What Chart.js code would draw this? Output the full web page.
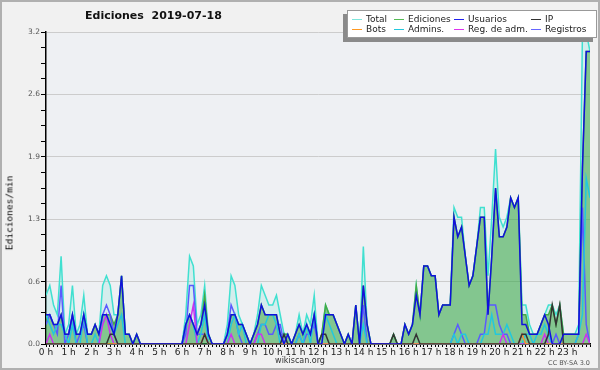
<!DOCTYPE html>
<html>
<head>
 <title>Ediciones 2019-07-18</title>
 <script src="https://cdn.jsdelivr.net/npm/chart.js"></script>
 <style>
  body { margin: 0; background: #fff; }
  #wrap { position: relative; width: 600px; height: 370px; background: #f1f1f1; font-family: "DejaVu Sans", sans-serif; }
  #frame { position: absolute; left: 0; top: 0; width: 600px; height: 370px; box-sizing: border-box; border: 2px solid #b0b0b0; pointer-events: none; }
  #chart { position: absolute; left: 0; top: 0; }
  .txt { position: absolute; white-space: pre; color: #111; }
  #title { left: 85px; top: 9px; font-size: 11px; font-weight: bold; }
  #ytitle { left: 9px; top: 213px; font-family: "DejaVu Sans Mono", monospace; font-size: 9.5px; color: #000; transform: translate(-50%, -50%) rotate(-90deg); }
  #site { left: 300px; top: 356px; font-size: 8px; color: #333; transform: translateX(-50%); }
  #lic { right: 10px; top: 359px; font-size: 6.5px; color: #555; }
  #legend { position: absolute; left: 347px; top: 10px; width: 250px; height: 28px; box-sizing: border-box; background: #fff; border: 1px solid #999; box-shadow: -4px 4px 0 #8a8a8a; }
  .item { position: absolute; font-size: 9px; color: #222; white-space: pre; line-height: 10px; }
  .item i { position: absolute; left: -14px; top: 5px; width: 10px; height: 0; border-top: 1.5px solid; }
 </style>
</head>
<body>
 <div id="wrap">
  <canvas id="chart" width="600" height="370"></canvas>
  <div class="txt" id="title">Ediciones  2019-07-18</div>
  <div class="txt" id="ytitle">Ediciones/min</div>
  <div class="txt" id="site">wikiscan.org</div>
  <div class="txt" id="lic">CC BY-SA 3.0</div>
  <div id="legend"></div>
  <div id="frame"></div>
 </div>
 <script>
  // 10-minute slots, 0 = 00:00 ... 144 = 24:00
  const slots = Array.from({ length: 145 }, (_, i) => i);
  const yTicks = [0, 0.16, 0.32, 0.48, 0.64, 0.8, 0.96, 1.12, 1.28, 1.44, 1.6, 1.76, 1.92, 2.08, 2.24, 2.4, 2.56, 2.72, 2.88, 3.04, 3.2];

  // edits per minute, one row per hour (6 slots), last value = 24:00
  const total = [
   .5,.6,.4,.3,.9,.1,  .2,.6,.1,.2,.5,.1,  .1,.2,.1,.6,.7,.6,  .3,.3,.7,.1,.1,0,
   .1,0,0,0,0,0,  0,0,0,0,0,0,  0,.3,.9,.8,.2,.3,  .6,.1,0,0,0,0,
   .2,.7,.6,.3,.2,.1,  0,.1,.3,.6,.5,.4,  .4,.5,.3,.1,.1,0,  .1,.3,.1,.3,.2,.5,
   0,.1,.4,.3,.3,.2,  .1,0,.1,0,.4,0,  1.0,.2,0,0,0,0,  0,0,.1,0,0,.2,
   .1,.2,.6,.3,.8,.8,  .7,.7,.3,.4,.4,.4,  1.4,1.3,1.3,.9,.6,.7,  1.0,1.4,1.4,.7,1.3,2.0,
   1.3,1.2,1.3,1.5,1.4,1.5,  .4,.4,.2,.1,.1,.2,  .3,.4,.4,.3,.4,.1,  .1,.1,.1,.2,3.2,3.2,
   3.0];
  const ediciones = [
   .3,.3,.2,.2,.3,.1,  .1,.3,.1,.1,.3,.1,  .1,.2,.1,.3,.3,.3,  .2,.3,.7,.1,.1,0,
   .1,0,0,0,0,0,  0,0,0,0,0,0,  0,.2,.3,.2,.1,.2,  .5,.1,0,0,0,0,
   .1,.3,.3,.2,.2,.1,  0,.1,.2,.4,.3,.3,  .3,.3,.1,.1,.1,0,  .1,.2,.1,.2,.1,.3,
   0,.1,.4,.3,.3,.2,  .1,0,.1,0,.4,0,  .6,.2,0,0,0,0,  0,0,.1,0,0,.2,
   .1,.2,.6,.3,.8,.8,  .7,.7,.3,.4,.4,.4,  1.3,1.1,1.2,.9,.6,.7,  1.0,1.3,1.3,.3,.9,1.6,
   1.1,1.1,1.2,1.5,1.4,1.5,  .3,.3,.1,.1,.1,.2,  .3,.3,.4,.2,.4,.1,  .1,.1,.1,.1,1.8,3.0,
   3.0];
  const usuarios = [
   .3,.3,.2,.2,.3,.1,  .1,.3,.1,.1,.3,.1,  .1,.2,.1,.3,.3,.2,  .1,.3,.7,.1,.1,0,
   .1,0,0,0,0,0,  0,0,0,0,0,0,  0,.2,.3,.2,.1,.2,  .4,.1,0,0,0,0,
   .1,.3,.3,.2,.2,.1,  0,.1,.2,.4,.3,.3,  .3,.3,.1,0,.1,0,  .1,.2,.1,.2,.1,.3,
   0,0,.3,.3,.3,.2,  .1,0,.1,0,.4,0,  .6,.2,0,0,0,0,  0,0,0,0,0,.2,
   .1,.2,.5,.3,.8,.8,  .7,.7,.3,.4,.4,.4,  1.3,1.1,1.2,.9,.6,.7,  1.0,1.3,1.3,.3,.9,1.6,
   1.1,1.1,1.2,1.5,1.4,1.5,  .2,.2,.1,.1,.1,.2,  .3,.2,0,0,0,.1,  .1,.1,.1,.1,1.8,3.0,
   3.0];
  const ip = [
   0,0,0,0,0,0,  0,0,0,0,0,0,  0,0,0,0,0,.1,  .1,0,0,0,0,0,
   0,0,0,0,0,0,  0,0,0,0,0,0,  0,0,0,0,0,0,  .1,0,0,0,0,0,
   0,0,0,0,0,0,  0,0,0,0,0,0,  0,0,0,.1,0,0,  0,0,0,0,0,0,
   0,.1,.1,0,0,0,  0,0,0,0,0,0,  0,0,0,0,0,0,  0,0,.1,0,0,0,
   0,0,.1,0,0,0,  0,0,0,0,0,0,  0,0,0,0,0,0,  0,0,0,0,0,0,
   0,0,0,0,0,0,  .1,.1,0,0,0,0,  0,.1,.4,.2,.4,0,  0,0,0,0,0,0,
   0];
  const bots = [
   0,0,0,0,0,0,  0,0,0,0,0,0,  0,0,0,0,0,0,  0,0,0,0,0,0,
   0,0,0,0,0,0,  0,0,0,0,0,0,  0,0,0,0,0,0,  .1,0,0,0,0,0,
   0,0,0,0,0,0,  0,0,0,0,0,0,  0,0,0,0,0,0,  0,0,0,0,0,0,
   0,0,0,0,0,0,  0,0,0,0,0,0,  0,0,0,0,0,0,  0,0,0,0,0,0,
   0,0,0,0,0,0,  0,0,0,0,0,0,  0,0,0,0,0,0,  0,0,0,0,0,0,
   0,0,0,0,0,0,  .1,0,0,0,0,0,  0,0,0,0,0,0,  0,0,0,0,0,0,
   0];
  const admins = [
   .3,.2,.1,.2,.2,.1,  0,.2,0,0,.3,0,  0,.1,0,.3,.3,.2,  .1,.2,.3,0,0,0,
   0,0,0,0,0,0,  0,0,0,0,0,0,  0,.2,.3,.2,0,.1,  .3,0,0,0,0,0,
   0,.2,.3,.1,.2,0,  0,0,0,.2,.2,.3,  .3,.2,0,.1,0,0,  0,.1,0,.2,0,.3,
   0,0,.3,.2,.1,0,  0,0,0,0,0,0,  .2,0,0,0,0,0,  0,0,0,0,0,0,
   0,0,0,0,0,0,  0,0,0,0,0,0,  .1,0,.1,.1,0,0,  0,0,.1,.1,.3,.1,
   .1,.1,.2,.1,0,0,  0,.1,.1,0,.1,.1,  .2,.1,0,0,0,0,  0,0,0,.1,.3,1.7,
   1.5];
  const regAdm = [
   0,.1,0,0,0,0,  0,0,0,0,0,0,  0,0,0,.2,.3,.1,  0,0,0,0,0,0,
   0,0,0,0,0,0,  0,0,0,0,0,0,  0,0,.2,.4,0,0,  .1,0,0,0,0,0,
   0,.1,0,0,0,0,  0,0,.1,.1,0,0,  0,0,0,0,0,0,  0,0,0,0,0,0,
   0,0,0,0,0,0,  0,0,0,0,0,0,  0,0,0,0,0,0,  0,0,0,0,0,0,
   0,0,0,0,0,0,  0,0,0,0,0,0,  0,0,0,0,0,0,  0,0,0,0,0,0,
   0,.1,0,0,0,0,  0,0,0,0,0,0,  .1,0,0,0,0,0,  0,0,0,0,0,.1,
   0];
  const registros = [
   .2,.3,.2,.1,.6,0,  .1,.3,0,.1,.2,0,  0,0,0,.3,.4,.3,  .1,0,0,0,0,0,
   0,0,0,0,0,0,  0,0,0,0,0,0,  0,.1,.6,.6,.1,.1,  .1,0,0,0,0,0,
   .1,.4,.3,.1,0,0,  0,0,.1,.2,.2,.1,  .1,.2,.2,0,0,0,  0,.1,0,.1,.1,.2,
   0,0,0,0,0,0,  0,0,0,0,0,0,  .4,0,0,0,0,0,  0,0,0,0,0,0,
   0,0,0,0,0,0,  0,0,0,0,0,0,  .1,.2,.1,0,0,0,  0,.1,.1,.4,.4,.4,
   .2,.1,.1,0,0,0,  .1,0,0,0,0,0,  0,.1,0,.1,0,0,  0,0,0,.1,1.4,.2,
   0];

  const legendItems = [
   ['Total', '#7fe6dc', 366, 14], ['Ediciones', '#55bb55', 408, 14], ['Usuarios', '#2222ee', 468, 14], ['IP', '#333333', 545, 14],
   ['Bots', '#ff9922', 366, 24], ['Admins.', '#22c8dd', 408, 24], ['Reg. de adm.', '#dd33ee', 468, 24], ['Registros', '#6666ff', 545, 24]
  ];
  const legend = document.getElementById('legend');
  legendItems.forEach(([name, color, x, y]) => {
   const d = document.createElement('div');
   d.className = 'item';
   d.style.left = (x - 348) + 'px';
   d.style.top = (y - 11) + 'px';
   d.innerHTML = '<i style="border-color:' + color + '"></i>' + name;
   legend.appendChild(d);
  });

  const plotBg = {
   id: 'plotBg',
   beforeDraw(c) {
    const { ctx, chartArea: a } = c;
    ctx.save();
    ctx.fillStyle = '#eef0f3';
    ctx.fillRect(a.left, a.top, a.right - a.left, a.bottom - a.top);
    ctx.restore();
   }
  };

  const line = (label, data, color, order, extra) => Object.assign({
   label, data, borderColor: color, borderWidth: 1.5, fill: false, order
  }, extra || {});

  const ctx = document.getElementById('chart').getContext('2d');
  new Chart(ctx, {
   type: 'line',
   data: {
    labels: slots,
    datasets: [
     line('Total', total, '#40e0d0', 10, { fill: 'origin', backgroundColor: 'rgba(64,224,208,0.15)' }),
     line('Ediciones', ediciones, '#44aa44', 9, { fill: 'origin', backgroundColor: 'rgba(50,160,50,0.5)' }),
     line('Registros', registros, '#5a5aff', 8),
     line('Admins.', admins, '#22c8dd', 7),
     line('Reg. de adm.', regAdm, '#cc33ee', 6),
     line('Bots', bots, '#ff9922', 5),
     line('IP', ip, '#333333', 4),
     line('Usuarios', usuarios, '#1010dd', 3)
    ]
   },
   options: {
    responsive: false,
    animation: false,
    layout: { padding: { top: 32, right: 10, left: 0, bottom: 0 } },
    plugins: { legend: { display: false }, tooltip: { enabled: false } },
    elements: { point: { radius: 0 }, line: { tension: 0 } },
    scales: {
     x: {
      type: 'linear', min: 0, max: 144,
      afterFit: s => { s.height = 26; },
      ticks: {
       stepSize: 1, autoSkip: false, maxRotation: 0, minRotation: 0, padding: 0,
       color: '#222', font: { family: 'DejaVu Sans', size: 9 },
       callback: v => (v % 6 === 0 && v < 144) ? (v / 6) + ' h' : ''
      },
      grid: { drawOnChartArea: false, tickLength: 3, tickColor: '#000' },
      border: { color: '#000', width: 1.5 }
     },
     y: {
      min: 0, max: 3.2,
      afterFit: s => { s.width = 46; },
      afterBuildTicks: s => { s.ticks = yTicks.map(v => ({ value: v })); },
      ticks: {
       padding: 1, color: '#555', font: { family: 'DejaVu Sans', size: 7.5 },
       callback: (v, i) => i % 4 === 0 ? v.toFixed(1) : ''
      },
      grid: {
       color: c => c.index % 4 === 0 ? '#cccccc' : 'rgba(0,0,0,0)',
       tickColor: '#000', tickLength: 5
      },
      border: { color: '#000', width: 1.5 }
     }
    }
   },
   plugins: [plotBg]
  });
 </script>
</body>
</html>
